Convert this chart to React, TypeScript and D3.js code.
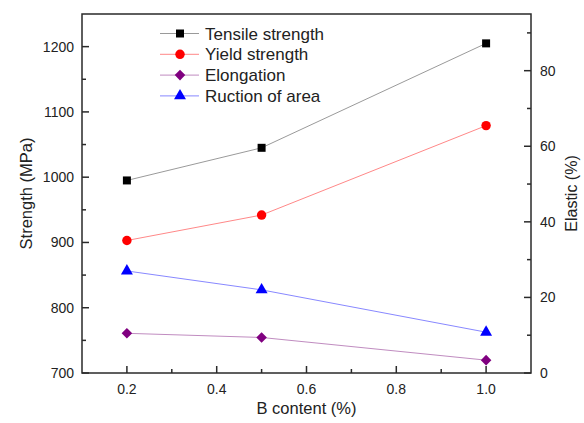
import React from "react";
import * as d3 from "d3";

const xValues = [0.2, 0.5, 1.0];
const tensile = [995, 1045, 1205];
const yieldS = [903, 942, 1079];
const elongation = [10.5, 9.4, 3.4];
const ruction = [27, 22, 10.8];

const xTicks = [0.2, 0.4, 0.6, 0.8, 1.0];
const xMinor = [0.3, 0.5, 0.7, 0.9];
const yLeftTicks = [700, 800, 900, 1000, 1100, 1200];
const yLeftMinor = [750, 850, 950, 1050, 1150];
const yRightTicks = [0, 20, 40, 60, 80];
const yRightMinor = [10, 30, 50, 70, 90];

const legendLabels = ["Tensile strength", "Yield strength", "Elongation", "Ruction of area"];

const W = 584, H = 423;
const L = 82, R = 531, T = 14, B = 373;
const FONT = "Arial, 'Liberation Sans', sans-serif";

export default function App() {
  const x = d3.scaleLinear().domain([0.1, 1.1]).range([L, R]);
  const yL = d3.scaleLinear().domain([700, 1250]).range([B, T]);
  const yR = d3.scaleLinear().domain([0, 95]).range([B, T]);

  const series = [
    { label: legendLabels[0], vals: tensile, scale: yL, color: "#000000", line: "#9a9a9a", sym: d3.symbolSquare, size: 64, rot: 0 },
    { label: legendLabels[1], vals: yieldS, scale: yL, color: "#ff0000", line: "#ff8888", sym: d3.symbolCircle, size: 70, rot: 0 },
    { label: legendLabels[2], vals: elongation, scale: yR, color: "#800080", line: "#c08cc0", sym: d3.symbolSquare, size: 56, rot: 45 },
    { label: legendLabels[3], vals: ruction, scale: yR, color: "#0000ff", line: "#8888ff", sym: d3.symbolTriangle, size: 62, rot: 0 },
  ];

  const axisColor = "#2a2a2a";
  const textColor = "#222";

  return (
    <svg width={W} height={H} style={{ position: "absolute", left: 0, top: 0, background: "#fff" }} fontFamily={FONT}>
      <rect x={0} y={0} width={W} height={H} fill="#fff" />
      {series.map((s, i) => {
        const line = d3.line<number>().x((_, j) => x(xValues[j])).y((v) => s.scale(v));
        return <path key={"l" + i} d={line(s.vals) || ""} fill="none" stroke={s.line} strokeWidth={1} />;
      })}
      {series.map((s, i) =>
        s.vals.map((v, j) => (
          <path
            key={"m" + i + "-" + j}
            d={d3.symbol().type(s.sym).size(s.size)() || ""}
            transform={`translate(${x(xValues[j])},${s.scale(v)}) rotate(${s.rot})`}
            fill={s.color}
          />
        ))
      )}
      <rect x={L} y={T} width={R - L} height={B - T} fill="none" stroke={axisColor} strokeWidth={1.5} />
      {xTicks.map((t) => (
        <g key={"xt" + t}>
          <line x1={x(t)} x2={x(t)} y1={B} y2={B - 7} stroke={axisColor} strokeWidth={1.5} />
          <text x={x(t)} y={394} textAnchor="middle" fontSize={14} fill={textColor}>{t.toFixed(1)}</text>
        </g>
      ))}
      {xMinor.map((t) => (
        <line key={"xm" + t} x1={x(t)} x2={x(t)} y1={B} y2={B - 4} stroke={axisColor} strokeWidth={1.5} />
      ))}
      {yLeftTicks.map((t) => (
        <g key={"yl" + t}>
          <line x1={L} x2={L + 7} y1={yL(t)} y2={yL(t)} stroke={axisColor} strokeWidth={1.5} />
          <text x={74} y={yL(t) + 5} textAnchor="end" fontSize={14} fill={textColor}>{t}</text>
        </g>
      ))}
      {yLeftMinor.map((t) => (
        <line key={"ylm" + t} x1={L} x2={L + 4} y1={yL(t)} y2={yL(t)} stroke={axisColor} strokeWidth={1.5} />
      ))}
      {yRightTicks.map((t) => (
        <g key={"yr" + t}>
          <line x1={R} x2={R - 7} y1={yR(t)} y2={yR(t)} stroke={axisColor} strokeWidth={1.5} />
          <text x={540} y={yR(t) + 5} textAnchor="start" fontSize={14} fill={textColor}>{t}</text>
        </g>
      ))}
      {yRightMinor.map((t) => (
        <line key={"yrm" + t} x1={R} x2={R - 4} y1={yR(t)} y2={yR(t)} stroke={axisColor} strokeWidth={1.5} />
      ))}
      <text x={(L + R) / 2} y={414} textAnchor="middle" fontSize={16.5} fill={textColor}>B content (%)</text>
      <text transform={`translate(32,${(T + B) / 2}) rotate(-90)`} textAnchor="middle" fontSize={16.5} fill={textColor}>Strength (MPa)</text>
      <text transform={`translate(577,${(T + B) / 2}) rotate(-90)`} textAnchor="middle" fontSize={16} fill={textColor}>Elastic (%)</text>
      {series.map((s, i) => {
        const cy = 33.5 + i * 20.8;
        return (
          <g key={"lg" + i}>
            <line x1={160} x2={199} y1={cy} y2={cy} stroke={s.line} strokeWidth={1} />
            <path d={d3.symbol().type(s.sym).size(s.size)() || ""} transform={`translate(180,${cy}) rotate(${s.rot})`} fill={s.color} />
            <text x={205} y={cy + 6} fontSize={17} fill={textColor}>{s.label}</text>
          </g>
        );
      })}
    </svg>
  );
}
